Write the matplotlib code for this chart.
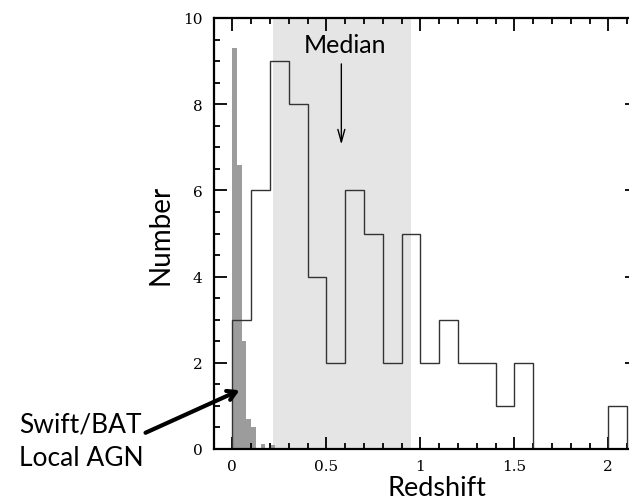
import numpy as np
import matplotlib
matplotlib.use('Agg')
import matplotlib.pyplot as plt
from matplotlib.ticker import MultipleLocator

# redshift histogram of the sample (bins of 0.1)
bin_edges = [0.0, 0.1, 0.2, 0.3, 0.4, 0.5, 0.6, 0.7, 0.8, 0.9, 1.0,
             1.1, 1.2, 1.3, 1.4, 1.5, 1.6, 1.7, 1.8, 1.9, 2.0, 2.1]
counts = [3, 6, 9, 8, 4, 2, 6, 5, 2, 5, 2, 3, 2, 2, 1, 2, 0, 0, 0, 0, 1]

# Swift/BAT local AGN (scaled), bins of 0.025
bat_edges = [0.0, 0.025, 0.05, 0.075, 0.1, 0.125, 0.15, 0.175, 0.2, 0.225]
bat_counts = [9.3, 6.6, 2.5, 0.7, 0.5, 0.0, 0.12, 0.0, 0.1]

shade_range = [0.216, 0.95]
median_z = 0.58

xticks = [0, 0.5, 1, 1.5, 2]
xtick_labels = ['0', '0.5', '1', '1.5', '2']
yticks = [0, 2, 4, 6, 8, 10]
ytick_labels = ['0', '2', '4', '6', '8', '10']

W, H = 629, 502
fig = plt.figure(figsize=(W / 100, H / 100), dpi=100)
ax = fig.add_axes([213.5 / W, 52 / H, 423 / W, 431 / H])

ax.axvspan(shade_range[0], shade_range[1], color='#e5e5e5', lw=0, zorder=0)
ax.stairs(bat_counts, bat_edges, fill=True, color='#9c9c9c', zorder=1)
ax.stairs(counts, bin_edges, color='#333333', lw=1.0, zorder=2)

ax.set_xlim(-0.1, 2.15)
ax.set_ylim(0, 10)

ax.set_xticks(xticks)
ax.set_xticklabels(xtick_labels, family='DejaVu Serif', fontsize=11)
ax.set_yticks(yticks)
ax.set_yticklabels(ytick_labels, family='DejaVu Serif', fontsize=11)
ax.xaxis.set_minor_locator(MultipleLocator(0.1))
ax.yaxis.set_minor_locator(MultipleLocator(0.5))
ax.tick_params(which='both', direction='in', top=True, right=True, width=1.3)
ax.tick_params(which='major', length=9, pad=8)
ax.tick_params(axis='x', which='major', pad=7)
ax.tick_params(which='minor', length=4.5)
for sp in ax.spines.values():
    sp.set_linewidth(1.6)

ax.set_xlabel('Redshift', family='Lato', fontsize=19.5, va='bottom')
ax.xaxis.set_label_coords((437 - 213.5) / 423, -(501 - 450) / 431)
ax.set_ylabel('Number', family='Lato', fontsize=20, va='center')
ax.yaxis.set_label_coords(-(214 - 161) / 423, 0.5)

# median arrow
ax.text(0.60, 9.21, 'Median', family='Lato', fontsize=18, ha='center', va='baseline')
ax.annotate('', xy=(median_z, 7.0), xytext=(median_z, 9.0),
            arrowprops=dict(arrowstyle='->,head_length=0.9,head_width=0.25', lw=1.0, color='black'))

# local AGN label and arrow
fig.text(19 / W, 1 - 433 / H, 'Swift/BAT', family='Lato', fontsize=19, va='baseline')
fig.text(19 / W, 1 - 466 / H, 'Local AGN', family='Lato', fontsize=19, va='baseline')
ax.annotate('', xy=(0.052, 1.39), xytext=(-0.475, 0.35), annotation_clip=False,
            arrowprops=dict(arrowstyle='->,head_length=0.6,head_width=0.35', lw=3.0, color='black'))

fig.savefig('out.png', dpi=100)
